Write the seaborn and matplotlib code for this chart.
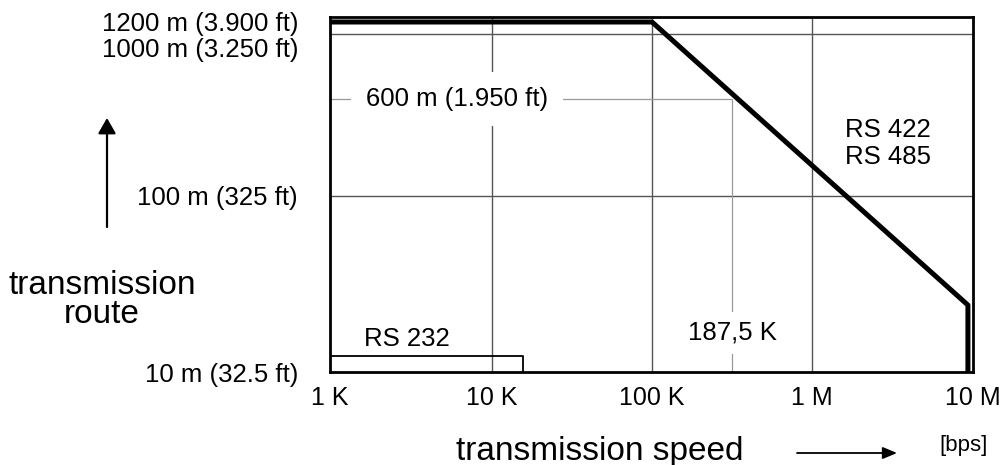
import matplotlib
matplotlib.use("Agg")
import matplotlib.pyplot as plt
import matplotlib.transforms as mtransforms
import numpy as np
import seaborn as sns

# --- values ------------------------------------------------------------------
speed_ticks = [1e3, 1e4, 1e5, 1e6, 1e7]
speed_labels = ["1 K", "10 K", "100 K", "1 M", "10 M"]
route_ticks = [10, 100, 1000, 1200]
route_labels = ["10 m (32.5 ft)", "100 m (325 ft)", "1000 m (3.250 ft)", "1200 m (3.900 ft)"]

rs485_speed = [1e3, 1e5, 9.3e6, 9.3e6]
rs485_route = [1200, 1200, 24, 10]
rs232_speed = [1e3, 15.6e3, 15.6e3]
rs232_route = [12.3, 12.3, 10]

marker_speed = 187.5e3   # 187,5 K
marker_route = 600       # 600 m (1.950 ft)

# The source is a sketch: decades are evenly spaced, but 187,5 K and 600 m sit
# off the true log grid, so both axes get a piecewise log scale (value -> pos).
SPEED_KNOTS = ([1e3, 1e4, 1e5, 1.875e5, 1e6, 1e7], [0, 162, 322, 402, 482, 643])
ROUTE_KNOTS = ([10, 100, 600, 1000, 1200, 1300], [0, 176, 273, 338, 350, 355])


def sketch_scale(knots):
    vals, pos = knots
    logv = np.log10(vals)

    def fwd(v):
        v = np.clip(np.asarray(v, dtype=float), 1e-9, None)
        return np.interp(np.log10(v), logv, pos)

    def inv(p):
        return 10 ** np.interp(p, pos, logv)

    return fwd, inv


sns.set_style("white")
plt.rcParams.update({
    "font.family": ["Liberation Sans", "DejaVu Sans"],
    "text.color": "black",
    "xtick.color": "black",
    "ytick.color": "black",
    "axes.labelcolor": "black",
})

W, H = 1002, 465
fig = plt.figure(figsize=(W / 100, H / 100), dpi=100)
ax = fig.add_axes([330 / W, 93 / H, 643 / W, 355 / H])

sns.lineplot(x=rs485_speed, y=rs485_route, sort=False, estimator=None,
             color="black", linewidth=3.6, ax=ax, zorder=5)
sns.lineplot(x=rs232_speed, y=rs232_route, sort=False, estimator=None,
             color="black", linewidth=1.3, ax=ax, zorder=5)

ax.set_xscale("function", functions=sketch_scale(SPEED_KNOTS))
ax.set_yscale("function", functions=sketch_scale(ROUTE_KNOTS))
ax.set_xlim(speed_ticks[0], speed_ticks[-1])
ax.set_ylim(route_ticks[0], 1300)

# grid: only the decade lines, plus the 600 m / 187,5 K guide lines
for s in speed_ticks[1:-1]:
    ax.axvline(s, color="#555555", lw=1.0, zorder=1)
for r in route_ticks[1:3]:
    ax.axhline(r, color="#555555", lw=1.0, zorder=1)
ax.hlines(marker_route, speed_ticks[0], marker_speed, color="#999999", lw=0.9, zorder=1)
ax.vlines(marker_speed, route_ticks[0], marker_route, color="#999999", lw=0.9, zorder=1)

for sp in ax.spines.values():
    sp.set_color("black")
    sp.set_linewidth(2)
    sp.set_visible(True)

ax.set_xticks(speed_ticks, speed_labels, fontsize=18)
ax.set_yticks(route_ticks, route_labels, fontsize=18.5)
ax.minorticks_off()
ax.tick_params(axis="both", length=0)
ax.tick_params(axis="x", pad=10)
ax.tick_params(axis="y", pad=23)
# the 1000 m label is pushed down in the original to clear the 1200 m one
lbl = ax.get_yticklabels()[2]
lbl.set_transform(lbl.get_transform()
                  + mtransforms.ScaledTranslation(0, -0.14, fig.dpi_scale_trans))

white = dict(boxstyle="square,pad=0.6", fc="white", ec="none")
ax.text(0.1975, marker_route, "600 m (1.950 ft)", transform=ax.get_yaxis_transform(),
        ha="center", va="center", fontsize=18.5, bbox=white, zorder=3)
ax.text(marker_speed, 0.11, "187,5 K", transform=ax.get_xaxis_transform(),
        ha="center", va="center", fontsize=18.5,
        bbox=dict(boxstyle="square,pad=0.35", fc="white", ec="none"), zorder=3)
ax.text(0.12, 0.093, "RS 232", transform=ax.transAxes,
        ha="center", va="center", fontsize=18.5, zorder=3)
ax.text(0.868, 0.682, "RS 422", transform=ax.transAxes,
        ha="center", va="center", fontsize=18.5, zorder=3)
ax.text(0.868, 0.606, "RS 485", transform=ax.transAxes,
        ha="center", va="center", fontsize=18.5, zorder=3)

# axis titles and arrows sit outside the frame
fig.text(102 / W, 1 - 294 / H, "transmission", ha="center", va="baseline", fontsize=24)
fig.text(102 / W, 1 - 323 / H, "route", ha="center", va="baseline", fontsize=24)
fig.text(600 / W, 1 - 460 / H, "transmission speed", ha="center", va="baseline", fontsize=24)
fig.text(964 / W, 1 - 445 / H, "[bps]", ha="center", va="center", fontsize=16)

ax.annotate("", xy=(107 / W, 1 - 118 / H), xytext=(107 / W, 1 - 227 / H),
            xycoords="figure fraction", textcoords="figure fraction",
            arrowprops=dict(arrowstyle="-|>,head_length=0.47,head_width=0.27",
                            color="black", lw=1.6, shrinkA=0, shrinkB=0,
                            mutation_scale=20))
ax.annotate("", xy=(897 / W, 1 - 453 / H), xytext=(797 / W, 1 - 453 / H),
            xycoords="figure fraction", textcoords="figure fraction",
            arrowprops=dict(arrowstyle="-|>,head_length=0.43,head_width=0.18",
                            color="black", lw=1.3, shrinkA=0, shrinkB=0,
                            mutation_scale=20))

fig.savefig("out.png", dpi=100)
